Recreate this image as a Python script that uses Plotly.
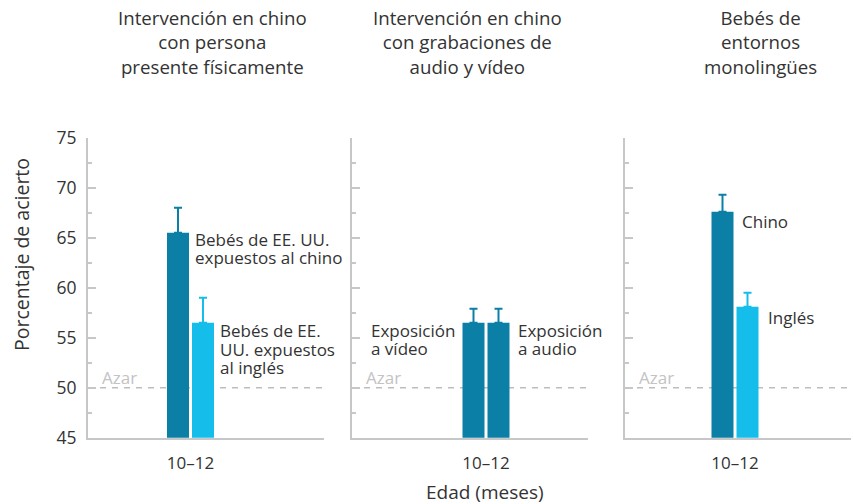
import plotly.graph_objects as go

# ---------------- data ----------------
categories = ["10–12"]
panel_titles = [
    "Intervención en chino<br>con persona<br>presente físicamente",
    "Intervención en chino<br>con grabaciones de<br>audio y vídeo",
    "Bebés de<br>entornos<br>monolingües",
]
p1_values = [65.5, 56.5]      # EE. UU. expuestos al chino / al inglés
p1_err_up = [2.5, 2.5]
p2_values = [56.5, 56.5]      # Exposición a vídeo / a audio
p2_err_up = [1.4, 1.4]
p3_values = [67.6, 58.1]      # Chino / Inglés
p3_err_up = [1.7, 1.4]
y_ticks = [45, 50, 55, 60, 65, 70, 75]
chance_level = 50

DARK = "#0b7fa6"
LIGHT = "#15bdeb"
AXIS = "#c5c7c9"
TXT = "#333333"
FONT = "Open Sans"

W, H = 853, 504

def px(x):
    return x / W

def py(y):
    return 1 - y / H

# panel domains (pixels) and category ranges
domains = [(88, 324), (352, 588), (625, 851)]
ranges = [(-1.025, 1.335), (-1.34, 1.02), (-1.10, 1.16)]
ydom = (py(437.7), py(137.7))

fig = go.Figure()

panels = [
    (p1_values, p1_err_up, [DARK, LIGHT]),
    (p2_values, p2_err_up, [DARK, DARK]),
    (p3_values, p3_err_up, [DARK, LIGHT]),
]
for i, (vals, errs, cols) in enumerate(panels):
    xa = "x" if i == 0 else f"x{i+1}"
    ya = "y" if i == 0 else f"y{i+1}"
    for j in range(2):
        fig.add_trace(go.Bar(
            x=categories, y=[vals[j]], xaxis=xa, yaxis=ya,
            marker=dict(color=cols[j], line=dict(width=0)),
            offsetgroup=str(j),
            error_y=dict(type="data", symmetric=False, array=[errs[j]],
                         arrayminus=[0], color=cols[j], thickness=2, width=4),
            showlegend=False, hoverinfo="skip",
        ))

layout = dict(
    width=W, height=H, margin=dict(l=0, r=0, t=0, b=0, pad=0, autoexpand=False),
    plot_bgcolor="white", paper_bgcolor="white",
    barmode="group", bargap=0.5, bargroupgap=0.12,
    font=dict(family=FONT, color=TXT, size=17),
    showlegend=False,
)
for i in range(3):
    xk = "xaxis" if i == 0 else f"xaxis{i+1}"
    yk = "yaxis" if i == 0 else f"yaxis{i+1}"
    yref = "y" if i == 0 else f"y{i+1}"
    xref = "x" if i == 0 else f"x{i+1}"
    layout[xk] = dict(
        domain=[px(domains[i][0]), px(domains[i][1])],
        anchor=yref, range=list(ranges[i]), type="category",
        showline=True, linecolor=AXIS, linewidth=2,
        ticks="outside", ticklen=9, tickcolor="rgba(0,0,0,0)",
        tickfont=dict(size=17, color=TXT), showgrid=False, zeroline=False,
        fixedrange=True, automargin=False,
    )
    layout[yk] = dict(
        domain=list(ydom), anchor=xref, range=[45, 75],
        tickvals=y_ticks, showticklabels=(i == 0),
        showline=True, linecolor=AXIS, linewidth=2,
        ticks="inside", ticklen=8, tickwidth=2, tickcolor=AXIS,
        minor=dict(ticks="inside", ticklen=4, tickwidth=2, tickcolor=AXIS,
                   tick0=45, dtick=2.5),
        ticklabelstandoff=6,
        tickfont=dict(size=17.5, color=TXT), showgrid=False, zeroline=False,
        fixedrange=True, automargin=False,
    )
fig.update_layout(**layout)

shapes = []
annotations = []
for i in range(3):
    xd = "x domain" if i == 0 else f"x{i+1} domain"
    yr = "y" if i == 0 else f"y{i+1}"
    shapes.append(dict(type="line", xref=xd, yref=yr, x0=0, x1=1,
                       y0=chance_level, y1=chance_level, layer="below",
                       line=dict(color="#bdbdbd", width=1.5, dash="6px,6px")))
    annotations.append(dict(xref=xd, yref=yr, x=0, y=chance_level, xshift=12,
                            xanchor="left", yanchor="bottom", yshift=-3,
                            text="Azar", showarrow=False,
                            font=dict(size=17, color="#c3c3c3", family=FONT)))

# panel titles
title_cx = [212, 468, 760]
for t, cx in zip(panel_titles, title_cx):
    annotations.append(dict(xref="paper", yref="paper", x=px(cx), y=py(3),
                            xanchor="center", yanchor="top", text=t,
                            showarrow=False, align="center",
                            font=dict(size=18.7, color=TXT, family=FONT)))

# bar labels (one annotation per line for tight leading)
def label(lines, left, centers):
    for ln, cy in zip(lines, centers):
        annotations.append(dict(xref="paper", yref="paper", x=px(left), y=py(cy),
                                xanchor="left", yanchor="middle", text=ln,
                                showarrow=False,
                                font=dict(size=17, color=TXT, family=FONT)))

label(["Bebés de EE. UU.", "expuestos al chino"], 193, [239, 257])
label(["Bebés de EE.", "UU. expuestos", "al inglés"], 218, [330, 349, 367])
label(["Exposición", "a vídeo"], 369, [330, 348])
label(["Exposición", "a audio"], 516, [330, 348])
label(["Chino"], 740, [221])
label(["Inglés"], 766, [317])

# axis titles
annotations.append(dict(xref="paper", yref="paper", x=px(485), y=py(492),
                        xanchor="center", yanchor="middle", text="Edad (meses)",
                        showarrow=False, font=dict(size=19, color=TXT, family=FONT)))
annotations.append(dict(xref="paper", yref="paper", x=px(21), y=py(255),
                        xanchor="center", yanchor="middle", textangle=-90,
                        text="Porcentaje de acierto", showarrow=False,
                        font=dict(size=19.5, color=TXT, family=FONT)))

fig.update_layout(shapes=shapes, annotations=annotations)
fig.write_html("out.html", config={"displayModeBar": False},
               post_script="document.body.style.margin='0';document.body.style.padding='0';")
